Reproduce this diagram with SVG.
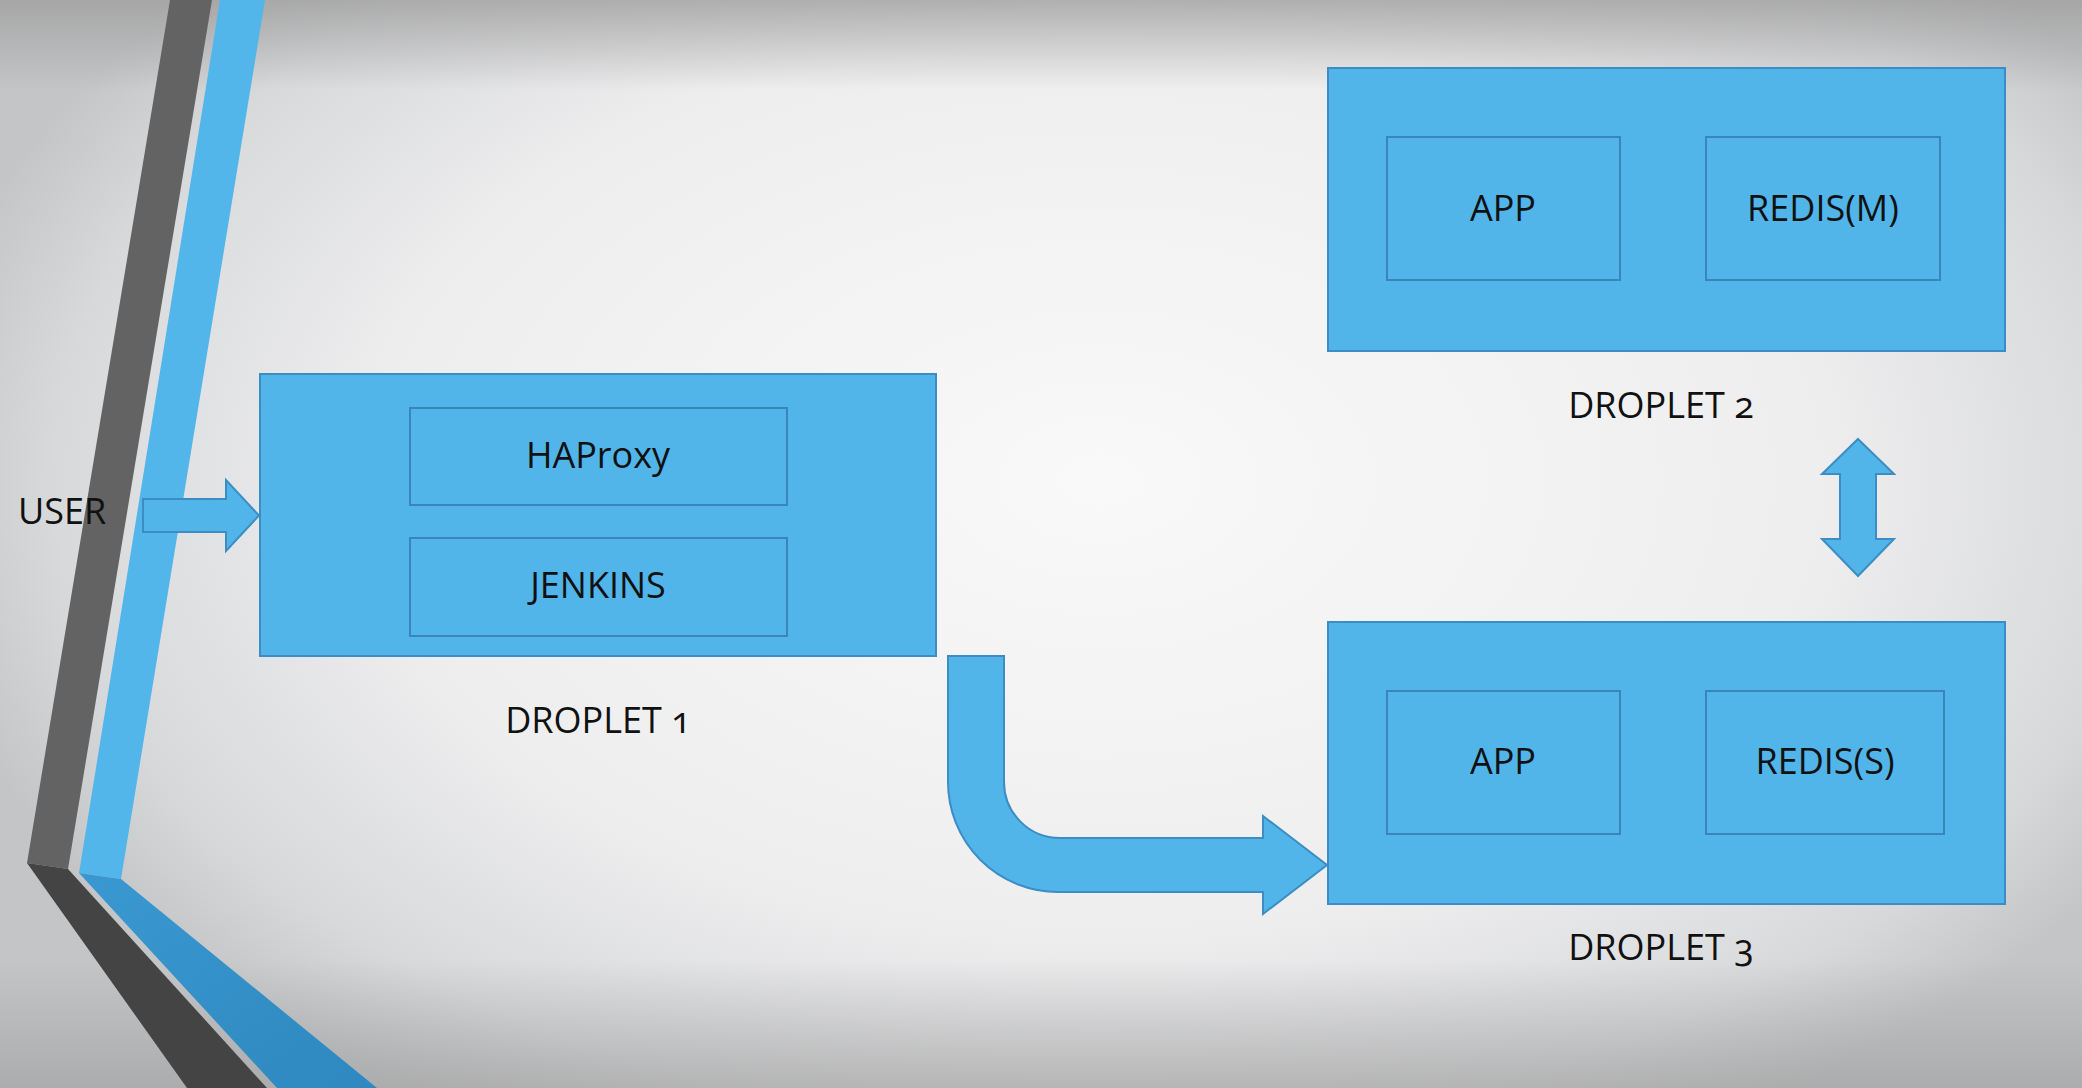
<svg xmlns="http://www.w3.org/2000/svg" width="2082" height="1088" viewBox="0 0 2082 1088">
<defs>
<radialGradient id="bg" cx="1100" cy="480" r="1200" gradientUnits="userSpaceOnUse" gradientTransform="translate(1100 480) scale(1 0.62) translate(-1100 -480)">
<stop offset="0" stop-color="#f9f9f9"/>
<stop offset="0.6" stop-color="#eeeeef"/>
<stop offset="0.87" stop-color="#d8d9db"/>
<stop offset="1" stop-color="#c4c5c7"/>
</radialGradient>
<linearGradient id="topShade" x1="0" y1="0" x2="0" y2="1">
<stop offset="0" stop-color="#9c9c9c" stop-opacity="0.75"/>
<stop offset="1" stop-color="#9c9c9c" stop-opacity="0"/>
</linearGradient>
<linearGradient id="botShade" x1="0" y1="0" x2="0" y2="1">
<stop offset="0" stop-color="#9c9c9c" stop-opacity="0"/>
<stop offset="1" stop-color="#9c9c9c" stop-opacity="0.6"/>
</linearGradient>
<linearGradient id="blueLow" x1="0" y1="0" x2="1" y2="1">
<stop offset="0" stop-color="#3a98d0"/>
<stop offset="1" stop-color="#2f88c0"/>
</linearGradient>
<style>
.box{fill:#51b5ea;stroke:#3b8dc3;stroke-width:2}
.inner{fill:#51b5ea;stroke:#3a86ba;stroke-width:2}
.arrow{fill:#51b5ea;stroke:#3b8dc3;stroke-width:2;stroke-linejoin:miter}
.lbl{font-family:"Open Sans","Noto Sans","Liberation Sans",sans-serif;font-size:36px;fill:#111;text-anchor:middle;font-variant-numeric:oldstyle-nums}
</style>
</defs>

<g id="background">
<rect x="0" y="0" width="2082" height="1088" fill="url(#bg)"/>
<rect x="0" y="0" width="2082" height="90" fill="url(#topShade)"/>
<rect x="0" y="960" width="2082" height="128" fill="url(#botShade)"/>
</g>

<g id="decor-strips">
<polygon points="170,0 212,0 68,869 27,863" fill="#636363"/>
<polygon points="27,863 68,869 267,1088 187,1088" fill="#444444"/>
<polygon points="220,0 265,0 121,879 79,873" fill="#52b6ea"/>
<polygon points="79,873 121,879 377,1088 277,1088" fill="url(#blueLow)"/>
</g>

<g id="user">
<text class="lbl" x="62" y="524">USER</text>
</g>

<g id="droplet1">
<rect class="box" x="260" y="374" width="676" height="282"/>
<g id="haproxy">
<rect class="inner" x="410" y="408" width="377" height="97"/>
<text class="lbl" x="598" y="468">HAProxy</text>
</g>
<g id="jenkins">
<rect class="inner" x="410" y="538" width="377" height="98"/>
<text class="lbl" x="598" y="598">JENKINS</text>
</g>
<text class="lbl" x="598" y="733">DROPLET 1</text>
</g>

<g id="droplet2">
<rect class="box" x="1328" y="68" width="677" height="283"/>
<g id="app2">
<rect class="inner" x="1387" y="137" width="233" height="143"/>
<text class="lbl" x="1503" y="221">APP</text>
</g>
<g id="redism">
<rect class="inner" x="1706" y="137" width="234" height="143"/>
<text class="lbl" x="1823" y="221">REDIS(M)</text>
</g>
<text class="lbl" x="1661" y="418">DROPLET 2</text>
</g>

<g id="droplet3">
<rect class="box" x="1328" y="622" width="677" height="282"/>
<g id="app3">
<rect class="inner" x="1387" y="691" width="233" height="143"/>
<text class="lbl" x="1503" y="774">APP</text>
</g>
<g id="rediss">
<rect class="inner" x="1706" y="691" width="238" height="143"/>
<text class="lbl" x="1825" y="774">REDIS(S)</text>
</g>
<text class="lbl" x="1661" y="960">DROPLET 3</text>
</g>

<g id="connectors">
<polygon class="arrow" points="143,499 226,499 226,480 259,515.5 226,551 226,532 143,532"/>
<path class="arrow" d="M948,656 L948,782 A110,110 0 0 0 1058,892 L1263,892 L1263,914 L1327,865 L1263,816 L1263,838 L1060,838 A56,56 0 0 1 1004,782 L1004,656 Z"/>
<polygon class="arrow" points="1858,439 1894,474 1876,474 1876,539 1894,539 1858,576 1822,539 1840,539 1840,474 1822,474"/>
</g>
</svg>
